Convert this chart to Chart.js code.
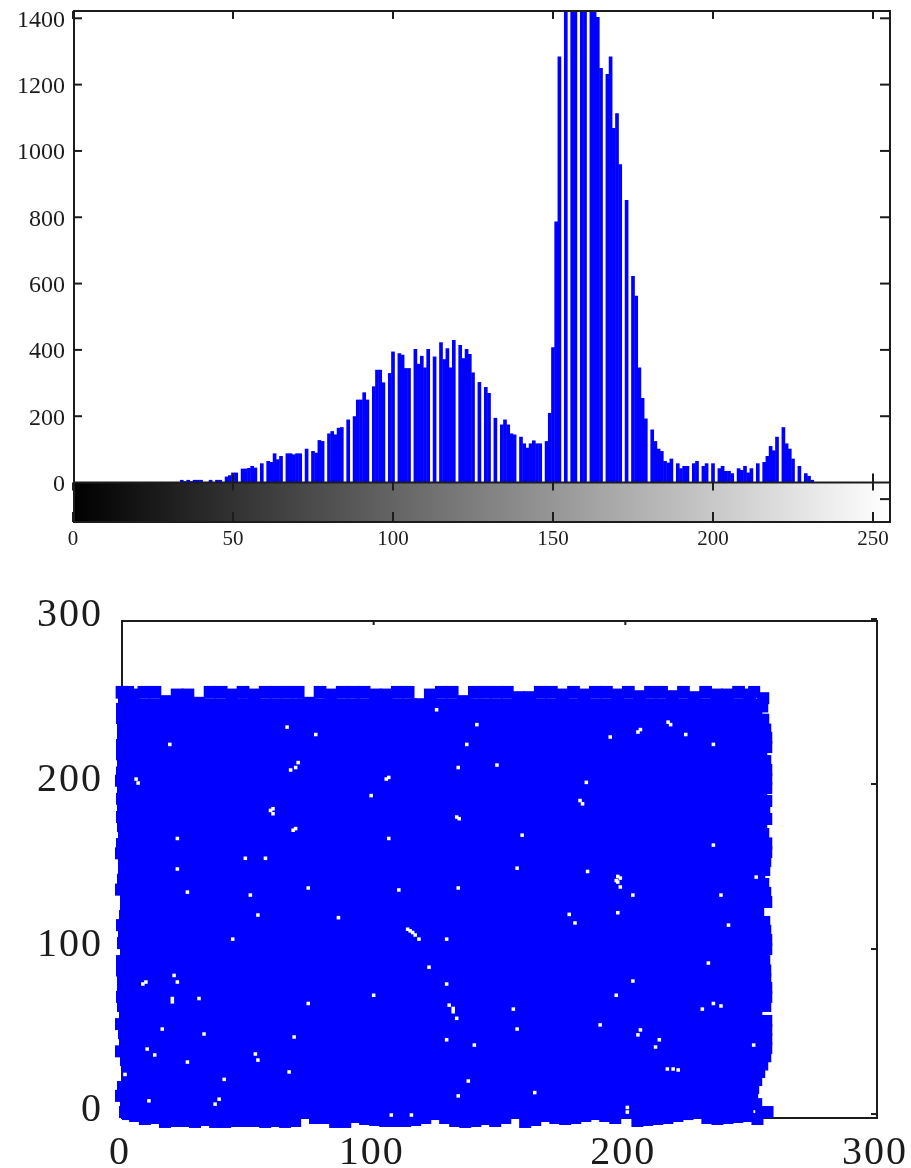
<!DOCTYPE html>
<html>
<head>
<meta charset="utf-8">
<title>Histogram and scatter</title>
<script src="https://cdn.jsdelivr.net/npm/chart.js@4"></script>
<style>
  html, body { margin: 0; background: #fff; }
  canvas { position: absolute; left: 0; filter: blur(0.55px); }
  #hist { top: 0; }
  #scatter { top: 575px; }
</style>
</head>
<body>
<canvas id="hist" width="911" height="575"></canvas>
<canvas id="scatter" width="911" height="593"></canvas>
<script>
// histogram counts per grey level 0..255 (peak is cut by the axis)
const counts = [
  0,0,0,0,0,0,0,0,0,0,
  0,0,0,0,0,0,0,0,0,0,
  0,0,0,0,0,0,0,0,0,0,
  0,0,0,0,8,4,8,4,8,8,
  8,0,0,8,0,8,8,0,18,22,
  30,30,0,42,42,44,50,45,0,58,
  0,65,62,88,70,80,0,88,88,85,
  88,88,0,102,0,95,90,128,125,0,
  148,155,145,165,167,0,190,0,200,250,
  250,272,250,0,290,340,340,302,0,330,
  395,0,390,385,345,345,0,403,358,382,
  347,403,0,380,0,423,372,405,347,430,
  0,415,375,403,388,332,0,303,0,288,
  270,0,195,0,175,190,175,148,145,0,
  138,118,105,118,127,118,118,0,125,210,
  408,787,1285,0,1500,0,1500,1500,0,1500,
  1500,0,1500,1500,1404,1250,0,1232,1285,1069,
  1114,960,0,852,0,623,563,347,255,193,
  0,160,125,102,95,65,60,72,0,58,
  43,50,50,0,58,65,0,50,58,0,
  58,0,43,50,35,35,28,0,43,38,
  50,30,43,0,58,0,62,80,110,97,
  138,0,167,118,102,72,0,50,0,28,
  20,8,0,0,0,0,0,0,0,0,
  0,0,0,0,0,0,0,0,0,0,
  0,0,0,0,0,0
];
const histXTicks = [0, 50, 100, 150, 200, 250];
const histYTicks = [0, 200, 400, 600, 800, 1000, 1200, 1400];
const stripTick = -50;
const stripFloor = -119;

const scatterTicks = [0, 100, 200, 300];

// bulk of the pixel pairs
const bulk = [
  [14,233],[37,233],[59,233],[82,233],[105,233],[127,233],[150,233],[173,233],[195,233],[218,233],[242,233],
  [14,196],[37,196],[59,196],[82,196],[105,196],[127,196],[150,196],[173,196],[195,196],[218,196],[242,196],
  [14,159],[37,159],[59,159],[82,159],[105,159],[127,159],[150,159],[173,159],[195,159],[218,159],[242,159],
  [14,122],[37,122],[59,122],[82,122],[105,122],[127,122],[150,122],[173,122],[195,122],[218,122],[242,122],
  [14,85],[37,85],[59,85],[82,85],[105,85],[127,85],[150,85],[173,85],[195,85],[218,85],[242,85],
  [14,48],[37,48],[59,48],[82,48],[105,48],[127,48],[150,48],[173,48],[195,48],[218,48],[242,48],
  [14,16],[37,16],[59,16],[82,16],[105,16],[127,16],[150,16],[173,16],[195,16],[218,16],[236,16]
];
// flat upper edge with its notches
const topEdge = [
  [0,255.6],[4.4,254],[8.7,255.6],[13.1,255.6],[17.5,250],[21.9,254],[26.2,254],[30.6,249],[35,255.6],[39.4,255.6],
  [43.7,254],[48.1,255.6],[52.5,254],[56.9,255.6],[61.2,255.6],[65.6,255.6],[70,255.6],[74.4,249],[78.7,255.6],[83.1,254],
  [87.5,255.6],[91.9,255.6],[96.2,255.6],[100.6,254],[105,254],[109.4,255.6],[113.7,255.6],[118.1,248],[122.5,254],[126.9,255.6],
  [131.2,255.6],[135.6,250],[140,255.6],[144.4,255.6],[148.7,255.6],[153.1,255.6],[157.5,252.4],[161.9,252.4],[166.2,255.6],[170.6,255.6],
  [175,254],[179.4,255.6],[183.7,254],[188.1,255.6],[192.5,255.6],[196.9,254],[201.2,255.6],[205.6,253],[210,255.6],[214.4,255.6],
  [218.7,253],[223.1,255.6],[227.5,252.4],[231.9,255.6],[236.2,254],[240.6,254],[245,255.6],[249.4,254]
];
const bottomEdge = [
  [1.2,1.2],[5.2,-1.2],[9.1,-3],[13.1,-2.4],[17.1,-4.8],[21.1,-4.2],[25,-4.2],[29,-4.8],[33,-3.6],[37,-4.8],
  [41,-4.8],[45,-4.2],[48.9,-4.2],[52.9,-4.2],[56.9,-4.8],[60.8,-4.2],[64.8,-4.8],[68.8,-4.2],[72.8,1.2],[76.7,-2.4],
  [80.7,-2.4],[84.7,-4.8],[88.7,-4.8],[92.6,-1.8],[96.6,-3],[100.6,-3.6],[104.6,-4.2],[108.5,-4.2],[112.5,-4.2],[116.5,-3.6],
  [120.5,-2.4],[124.5,0],[128.4,-2.4],[132.4,-4.2],[136.4,-4.8],[140.4,-4.2],[144.3,-3],[148.3,-4.2],[152.3,-2.4],[156.3,1.2],
  [160.2,-4.8],[164.2,-3.6],[168.2,-1.2],[172.2,-2.4],[176.1,-3],[180.1,-2.4],[184.1,-1.2],[188,0],[192,-1.2],[196,-2.4],
  [200.8,1.2],[204.8,-4.2],[208.7,-3.6],[212.7,-3],[216.7,-2.4],[220.7,-1.2],[224.7,0],[228.6,1.2],[232.6,-2.4],[236.6,-3],
  [240.6,-2.4],[244.5,-1.8],[248.5,-1.2],[252.5,-3],[256.5,1.2],[249,27],[248,20],[248,14],[248,8],[248,3]
];
const leftEdge = [
  [2.4,255.8],[0.8,251],[0,245.5],[0,240],[0.4,234.5],[0.4,229],[0,223.6],[0,218],[0.4,212.7],[0,207],
  [-0.4,202],[0.4,196],[0,191],[0.4,185.5],[0,180],[0.4,174.5],[0.8,169],[0,163.6],[-0.4,158],[0.8,152.7],
  [0.8,147],[0.4,142],[-0.4,136],[1.6,131],[1.6,125.5],[1.2,120],[0,114.5],[0.8,109],[0.4,103.6],[1.6,98],
  [0,92.7],[0,87],[0.4,81.6],[0.4,76],[0,71],[0.4,65.5],[1.2,60],[-0.4,54.5],[0.8,49],[1.2,43.6],
  [-0.4,38],[1.6,32.7],[2.4,27],[2.4,21.8],[0.4,16.4],[-0.4,11],[1.6,5.5],[2.4,0]
];
const rightEdge = [
  [251.2,255.8],[254.8,252],[254.4,247],[252,243.6],[254.8,239],[255.6,233],[256,228],[256,222.4],[254,219],[255.6,213.9],
  [256,208.5],[256,203],[256,197.6],[254,195],[256,189.7],[255.2,184],[256,178.8],[254,175],[254.8,169.7],[256,164],
  [256,158.8],[255.6,153.3],[255.2,147.9],[253.2,144.8],[254.8,139.4],[255.6,134],[256,128.5],[252.8,121.8],[255.2,116.4],[255.6,111],
  [256,105.5],[256,100],[254,98],[255.2,92.7],[255.6,87],[255.6,81.8],[256,76.4],[256,71],[255.6,65.5],[252,61.8],
  [256,56.4],[256,51],[256,45.5],[256,40],[255.6,35],[254.4,30],[253.2,25.5],[252,20.6],[250.8,15.8],[250.4,11],
  [252,6],[254,1.2]
];
// grey-level pairs that never occur: the small white holes in the block
const holes = [
  [65.6,234.5],[77,230],[19,224],[125,245],[70,213],[69,210],[67,208.5],[106,204],[105,203],[5.6,203],
  [6.4,200.6],[99,193],[133.6,210],[59,184],[60,182],[69,173],[22,167],[106,167],[49,155],[57,155],
  [22,148.5],[133,180],[137,224],[141,236],[149,211.5],[184.5,201],[182,190],[183,188],[134,179],[159,169],
  [157,149],[185,147],[197,144],[194,228.5],[205,231.5],[206,233],[217,237.5],[218,236],[224,230],[235,224],
  [235,163],[252,143.6],[26,134.5],[51,132.7],[74,137],[110,135.8],[133.6,137],[54,120.6],[86,119],[114.5,111],
  [116.5,108.5],[118,106],[44,106],[129,106],[122,89],[20.7,84],[22,80],[8.3,78.8],[9.5,80],[129,78.8],
  [30.6,70],[100,72],[20,70],[20,68],[74,67],[130,66],[131.6,62],[133,58],[16,51.5],[32.6,48.5],
  [68.4,46.7],[129,45],[10,39.4],[13,35.8],[53,36.4],[54,32.7],[26,31.5],[66.4,25.5],[40.6,21],[1.2,24],
  [38.6,9],[37,6],[10.7,8],[133.6,11],[107,-0.6],[115,-0.6],[197,140.6],[198,137.6],[203,132.7],[238,132.7],
  [180,115.8],[177.7,121],[197,122],[241,114.5],[233,91.5],[203,80.6],[196.4,72],[131.6,64],[155.5,63.6],[157,51.5],
  [230.6,63.6],[235,67],[238,65.5],[190,54],[206,51],[205,48],[213.5,45],[212,40.6],[140,41.8],[251,41.8],
  [219,27.3],[216.7,27.3],[221,26.7],[137.6,20],[164,13],[200.8,4],[200.8,1.2],
  [196.4,141.5],[198,143],[115.5,110],[113.5,112],[68,172],[60,185]
];

const serif = '"Liberation Serif", serif';
const ink = '#1c1c1c';

const toPoints = list => list.map(p => ({ x: p[0], y: p[1] }));
const plain = v => String(v);

// inward tick marks and the box, chart.js only draws ticks outward
const line = (ctx, x1, y1, x2, y2) => {
  ctx.beginPath();
  ctx.moveTo(x1, y1);
  ctx.lineTo(x2, y2);
  ctx.stroke();
};

const histFrame = {
  id: 'histFrame',
  afterDatasetsDraw(chart) {
    const { ctx, chartArea: a, scales } = chart;
    ctx.save();
    ctx.strokeStyle = ink;
    ctx.lineWidth = 2;
    ctx.strokeRect(a.left + 1, a.top, a.right - a.left, a.bottom - a.top);
    const zero = scales.y.getPixelForValue(0);
    line(ctx, a.left, zero, a.right + 1, zero);
    histXTicks.forEach(v => {
      const x = scales.x.getPixelForValue(v);
      line(ctx, x, a.top, x, a.top + 8);
      line(ctx, x, a.bottom, x, a.bottom - 10);
      line(ctx, x, zero + 8, x, zero - (v === 250 || v === 50 ? 9 : 0));
    });
    histYTicks.forEach(v => {
      const y = scales.y.getPixelForValue(v);
      if (v > 0) line(ctx, a.left, y, a.left + 9, y);
      if (v > 0) line(ctx, a.right, y, a.right - 9, y);
    });
    const s = scales.y.getPixelForValue(stripTick);
    line(ctx, a.right, s, a.right - 9, s);
    ctx.restore();
  }
};

const scatterFrame = {
  id: 'scatterFrame',
  beforeDraw(chart) {
    chart.ctx.letterSpacing = '2px';
  },
  beforeDatasetsDraw(chart) {
    const { ctx, chartArea: a, scales } = chart;
    ctx.save();
    ctx.strokeStyle = ink;
    ctx.lineWidth = 2;
    ctx.strokeRect(a.left, a.top, a.right - a.left, a.bottom - a.top);
    scatterTicks.forEach(v => {
      const x = scales.x.getPixelForValue(v);
      line(ctx, x, a.top, x, a.top + 4);
      const y = scales.y.getPixelForValue(v);
      line(ctx, a.right, y, a.right - 6, y);
    });
    ctx.restore();
  }
};

new Chart(document.getElementById('hist'), {
  type: 'bar',
  data: {
    datasets: [
      {
        label: 'count',
        data: counts.map((y, x) => ({ x, y })),
        backgroundColor: '#0000ff',
        grouped: false,
        barPercentage: 1.15,
        categoryPercentage: 1
      },
      {
        label: 'grey scale',
        data: counts.map((c, x) => ({ x, y: [stripFloor, 0] })),
        backgroundColor: counts.map((c, x) => `rgb(${x},${x},${x})`),
        grouped: false,
        barPercentage: 1.6,
        categoryPercentage: 1
      }
    ]
  },
  options: {
    responsive: false,
    animation: false,
    layout: { padding: { top: 11, right: 22, left: 0, bottom: 0 } },
    plugins: { legend: { display: false }, tooltip: { enabled: false } },
    scales: {
      x: {
        type: 'linear',
        offset: false,
        min: 0,
        max: 255,
        grid: { display: false },
        border: { display: false },
        afterBuildTicks: s => { s.ticks = histXTicks.map(value => ({ value })); },
        afterFit: s => { s.height = 53; s.paddingLeft = 0; s.paddingRight = 0; },
        ticks: { color: ink, padding: -3, maxRotation: 0, autoSkip: false, callback: plain, font: { family: serif, size: 21 } }
      },
      y: {
        min: stripFloor,
        max: 1422,
        grid: { display: false },
        border: { display: false },
        afterBuildTicks: s => { s.ticks = histYTicks.map(value => ({ value })); },
        afterFit: s => { s.width = 73; s.paddingTop = 0; s.paddingBottom = 0; },
        ticks: { color: ink, padding: 0, autoSkip: false, callback: plain, labelOffset: 2, font: { family: serif, size: 24 } }
      }
    }
  },
  plugins: [histFrame]
});

const blob = (label, list, radius, order) => ({
  label,
  data: toPoints(list),
  pointRadius: radius,
  pointStyle: 'rect',
  pointBorderWidth: 0,
  pointBackgroundColor: '#0000ff',
  showLine: false,
  clip: false,
  order
});

new Chart(document.getElementById('scatter'), {
  type: 'scatter',
  data: {
    datasets: [
      blob('bulk', bulk, 44, 3),
      blob('top', topEdge, 9, 2),
      blob('bottom', bottomEdge, 8.5, 2),
      blob('left', leftEdge, 8.5, 2),
      blob('right', rightEdge, 8.5, 2),
      {
        label: 'holes',
        data: toPoints(holes),
        pointRadius: 2.5,
        pointStyle: 'rect',
        pointBorderWidth: 0,
        pointBackgroundColor: '#ffffff',
        showLine: false,
        clip: false,
        order: 1
      }
    ]
  },
  options: {
    responsive: false,
    animation: false,
    layout: { autoPadding: false, padding: { top: 46, right: 34, left: 0, bottom: 0 } },
    plugins: { legend: { display: false }, tooltip: { enabled: false } },
    scales: {
      x: {
        type: 'linear',
        min: 0,
        max: 300,
        grid: { display: false },
        border: { display: false },
        afterBuildTicks: s => { s.ticks = scatterTicks.map(value => ({ value })); },
        afterFit: s => { s.height = 50; s.paddingLeft = 0; s.paddingRight = 0; },
        ticks: { color: ink, padding: 3, maxRotation: 0, autoSkip: false, labelOffset: -2, callback: plain, font: { family: serif, size: 40 } }
      },
      y: {
        min: -2.4,
        max: 298.8,
        grid: { display: false },
        border: { display: false },
        afterBuildTicks: s => { s.ticks = scatterTicks.map(value => ({ value })); },
        afterFit: s => { s.width = 122; s.paddingTop = 0; s.paddingBottom = 0; },
        ticks: { color: ink, padding: 11, autoSkip: false, labelOffset: -4, callback: plain, font: { family: serif, size: 40 } }
      }
    }
  },
  plugins: [scatterFrame]
});
</script>
</body>
</html>
